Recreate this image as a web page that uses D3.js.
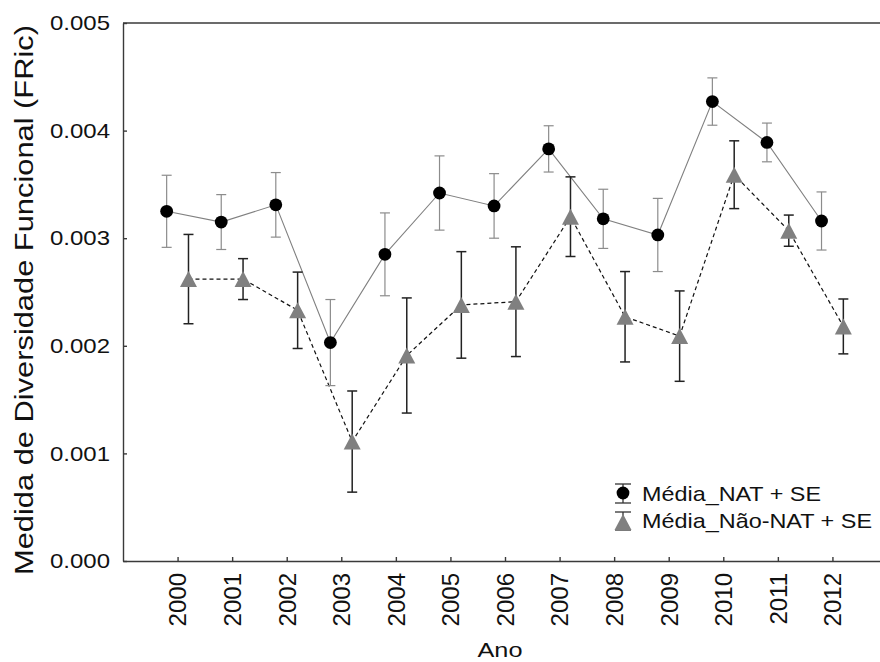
<!DOCTYPE html>
<html>
<head>
<meta charset="utf-8">
<script src="https://cdn.jsdelivr.net/npm/d3@7/dist/d3.min.js"></script>
<style>
  body { margin: 0; background: #fff; }
  svg { display: block; font-family: "Liberation Sans", Arial, sans-serif; }
</style>
</head>
<body>
<script>
// Dados (média e erro padrão)
var anos = [2000, 2001, 2002, 2003, 2004, 2005, 2006, 2007, 2008, 2009, 2010, 2011, 2012];
var mediaNat = [0.00325, 0.00315, 0.00331, 0.00203, 0.00285, 0.00342, 0.00330, 0.00383, 0.00318, 0.00303, 0.00427, 0.00389, 0.00316];
var seNat = [0.000335, 0.000255, 0.000300, 0.000400, 0.000385, 0.000345, 0.000300, 0.000215, 0.000275, 0.000340, 0.000220, 0.000180, 0.000270];
var mediaNaoNat = [0.00262, 0.00262, 0.00233, 0.00111, 0.00191, 0.00238, 0.00241, 0.00320, 0.00227, 0.00209, 0.00359, 0.00307, 0.00218];
var seNaoNat = [0.000415, 0.000190, 0.000355, 0.000470, 0.000535, 0.000495, 0.000510, 0.000370, 0.000420, 0.000420, 0.000315, 0.000145, 0.000255];
var yTicks = [0, 0.001, 0.002, 0.003, 0.004, 0.005];
var legenda = ['Média_NAT + SE', 'Média_Não-NAT + SE'];

var nat = anos.map(function(a, i) { return { ano: a, m: mediaNat[i], se: seNat[i] }; });
var naoNat = anos.map(function(a, i) { return { ano: a, m: mediaNaoNat[i], se: seNaoNat[i] }; });

var width = 880, height = 662;

var svg = d3.select('body').append('svg')
  .attr('width', width)
  .attr('height', height);

var x = d3.scaleLinear().domain([1999, 2013]).range([123, 887]);
var y = d3.scaleLinear().domain([0, 0.005]).range([561, 23]);
var offset = 0.2; // deslocamento dos grupos em anos

// eixos
var yAxis = d3.axisLeft(y).tickValues(yTicks).tickFormat(d3.format('.3f'))
  .tickSizeInner(-4).tickSizeOuter(0).tickPadding(13);
var gy = svg.append('g').attr('transform', 'translate(123,0)').call(yAxis);
gy.selectAll('text')
  .attr('font-size', 21)
  .attr('fill', '#111')
  .attr('textLength', 60)
  .attr('lengthAdjust', 'spacingAndGlyphs');

var xAxis = d3.axisBottom(x).tickValues(anos).tickFormat(d3.format('d'))
  .tickSizeInner(-4).tickSizeOuter(0);
var gx = svg.append('g').attr('transform', 'translate(0,561)').call(xAxis);
gx.selectAll('text')
  .attr('font-size', 24)
  .attr('fill', '#111')
  .attr('transform', 'rotate(-90)')
  .attr('text-anchor', 'end')
  .attr('x', -12)
  .attr('y', 0)
  .attr('dy', '0.35em');

svg.selectAll('.domain, .tick line').attr('stroke', '#3a3a3a').attr('stroke-width', 1.4);

// linha superior da moldura
svg.append('line')
  .attr('x1', x(1999)).attr('x2', x(2013))
  .attr('y1', y(0.005)).attr('y2', y(0.005))
  .attr('stroke', '#3a3a3a').attr('stroke-width', 1.4);

// títulos
svg.append('text')
  .attr('transform', 'translate(33,300) rotate(-90)')
  .attr('text-anchor', 'middle')
  .attr('font-size', 25)
  .attr('fill', '#111')
  .attr('textLength', 550)
  .attr('lengthAdjust', 'spacingAndGlyphs')
  .text('Medida de Diversidade Funcional (FRic)');

svg.append('text')
  .attr('x', 500).attr('y', 657)
  .attr('text-anchor', 'middle')
  .attr('font-size', 20)
  .attr('fill', '#111')
  .attr('textLength', 45)
  .attr('lengthAdjust', 'spacingAndGlyphs')
  .text('Ano');

// linhas das séries
var lineNat = d3.line()
  .x(function(d) { return x(d.ano - offset); })
  .y(function(d) { return y(d.m); });
var lineNaoNat = d3.line()
  .x(function(d) { return x(d.ano + offset); })
  .y(function(d) { return y(d.m); });

svg.append('path').datum(nat)
  .attr('d', lineNat)
  .attr('fill', 'none').attr('stroke', '#808080').attr('stroke-width', 1.1);

svg.append('path').datum(naoNat)
  .attr('d', lineNaoNat)
  .attr('fill', 'none').attr('stroke', '#111').attr('stroke-width', 1.2)
  .attr('stroke-dasharray', '4,3');

// barras de erro
function barras(dados, dx, cor, largura) {
  var g = svg.append('g').attr('stroke', cor).attr('stroke-width', largura);
  var e = g.selectAll('g').data(dados).enter().append('g')
    .attr('transform', function(d) { return 'translate(' + x(d.ano + dx) + ',0)'; });
  e.append('line')
    .attr('y1', function(d) { return y(d.m + d.se); })
    .attr('y2', function(d) { return y(d.m - d.se); });
  e.append('line').attr('x1', -5).attr('x2', 5)
    .attr('y1', function(d) { return y(d.m + d.se); })
    .attr('y2', function(d) { return y(d.m + d.se); });
  e.append('line').attr('x1', -5).attr('x2', 5)
    .attr('y1', function(d) { return y(d.m - d.se); })
    .attr('y2', function(d) { return y(d.m - d.se); });
}
barras(nat, -offset, '#8c8c8c', 1.2);
barras(naoNat, offset, '#222', 1.5);

var triangulo = 'M0,-8L8.5,8L-8.5,8Z';

svg.selectAll('.ponto-nat').data(nat).enter().append('circle')
  .attr('class', 'ponto-nat')
  .attr('cx', function(d) { return x(d.ano - offset); })
  .attr('cy', function(d) { return y(d.m); })
  .attr('r', 6.4)
  .attr('fill', '#000');

svg.selectAll('.ponto-naonat').data(naoNat).enter().append('path')
  .attr('class', 'ponto-naonat')
  .attr('d', triangulo)
  .attr('transform', function(d) { return 'translate(' + x(d.ano + offset) + ',' + y(d.m) + ')'; })
  .attr('fill', '#808080');

// legenda
var leg = svg.append('g').attr('transform', 'translate(623,0)');
[[493, 484, 503], [522, 512, 530]].forEach(function(p, i) {
  var s = leg.append('g').attr('stroke', '#333').attr('stroke-width', 1.3);
  s.append('line').attr('y1', p[1]).attr('y2', p[2]);
  s.append('line').attr('x1', -8).attr('x2', 8).attr('y1', p[1]).attr('y2', p[1]);
  s.append('line').attr('x1', -8).attr('x2', 8).attr('y1', p[2]).attr('y2', p[2]);
  if (i === 0) {
    leg.append('circle').attr('cy', p[0]).attr('r', 6.4).attr('fill', '#000');
  } else {
    leg.append('path').attr('d', triangulo)
      .attr('transform', 'translate(0,' + p[0] + ')').attr('fill', '#808080');
  }
});
leg.selectAll('.leg-texto').data(legenda).enter().append('text')
  .attr('class', 'leg-texto')
  .attr('x', 19)
  .attr('y', function(d, i) { return 501 + i * 27; })
  .attr('font-size', 21)
  .attr('fill', '#111')
  .attr('textLength', function(d, i) { return i === 0 ? 179 : 230; })
  .attr('lengthAdjust', 'spacingAndGlyphs')
  .text(function(d) { return d; });
</script>
</body>
</html>
